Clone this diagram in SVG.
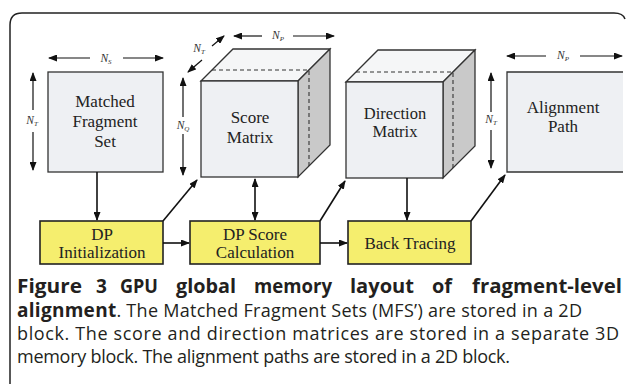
<svg xmlns="http://www.w3.org/2000/svg" width="627" height="384" viewBox="0 0 627 384">
<defs>
<marker id="ah" markerUnits="userSpaceOnUse" markerWidth="9" markerHeight="7" refX="8" refY="3.5" orient="auto-start-reverse"><path d="M0,0 L9,3.5 L0,7 z" fill="#111"/></marker>
<style>
.ln{stroke:#111;stroke-width:1.6;fill:none}
.dim{stroke:#111;stroke-width:1.2;fill:none}
.box{fill:#eef0f3;stroke:#333;stroke-width:1.3}
.top{fill:#f5f6f7;stroke:#333;stroke-width:1.3}
.side{fill:#c9c9c9;stroke:#333;stroke-width:1.3}
.dash{stroke:#333;stroke-width:1.1;stroke-dasharray:4,3;fill:none}
.yb{fill:#f5ee6e;stroke:#222;stroke-width:1.6}
.t{font-family:"Liberation Serif",serif;font-size:17px;fill:#222;text-anchor:middle}
.lab{font-family:"Liberation Serif",serif;font-size:11.5px;font-style:italic;fill:#333;text-anchor:middle}
.sub{font-size:7px}
.cap{font-family:"Open Sans",sans-serif;font-size:18px;fill:#231f20}
.b{font-weight:bold;font-size:19px}
</style>
</defs>
<path d="M10,384 V25 Q10,13 22,13 H614 Q623,13 625,19" fill="none" stroke="#222" stroke-width="1.5"/>

<g id="mfs">
<rect class="box" x="48" y="72" width="115" height="100"/>
<text class="t" x="105" y="107">Matched</text>
<text class="t" x="105" y="127">Fragment</text>
<text class="t" x="105" y="147">Set</text>
</g>

<g id="score-matrix">
<polygon class="top" points="201,81 233,49 330,49 298,81"/>
<polygon class="side" points="298,81 330,49 330,145 298,177"/>
<rect class="box" x="201" y="81" width="97" height="96"/>
<polyline class="dash" points="212,70 309,70 309,166"/>
<text class="t" x="250" y="123">Score</text>
<text class="t" x="250" y="143">Matrix</text>
</g>

<g id="direction-matrix">
<polygon class="top" points="346,82 378,50 475,50 443,82"/>
<polygon class="side" points="443,82 475,50 475,146 443,178"/>
<rect class="box" x="346" y="82" width="97" height="96"/>
<polyline class="dash" points="356,72 453,72 453,168"/>
<text class="t" x="395" y="119" style="font-size:16.5px">Direction</text>
<text class="t" x="395" y="137" style="font-size:16.5px">Matrix</text>
</g>

<g id="alignment-path">
<rect x="507" y="72" width="116" height="100" fill="#eef0f3"/>
<path d="M623,72 H507 V172 H623" fill="none" stroke="#333" stroke-width="1.3"/>
<text class="t" x="563" y="113">Alignment</text>
<text class="t" x="563" y="132">Path</text>
</g>

<g id="dp-init">
<rect class="yb" x="40" y="221" width="123" height="43"/>
<text class="t" x="102" y="240">DP</text>
<text class="t" x="102" y="258">Initialization</text>
</g>

<g id="dp-score">
<rect class="yb" x="190" y="221" width="130" height="43"/>
<text class="t" x="255" y="240">DP Score</text>
<text class="t" x="255" y="258">Calculation</text>
</g>

<g id="back-tracing">
<rect class="yb" x="348" y="221" width="123" height="43"/>
<text class="t" x="410" y="249">Back Tracing</text>
</g>

<g id="dimensions">
<line class="dim" x1="90" y1="58" x2="49" y2="58" marker-end="url(#ah)"/>
<line class="dim" x1="123" y1="58" x2="163" y2="58" marker-end="url(#ah)"/>
<text class="lab" x="106" y="62">N<tspan class="sub" dy="2">S</tspan></text>
<line class="dim" x1="33" y1="110" x2="33" y2="73" marker-end="url(#ah)"/>
<line class="dim" x1="33" y1="132" x2="33" y2="170" marker-end="url(#ah)"/>
<text class="lab" x="32" y="124">N<tspan class="sub" dy="2">T</tspan></text>
<line class="dim" x1="183" y1="117" x2="183" y2="78" marker-end="url(#ah)"/>
<line class="dim" x1="183" y1="134" x2="183" y2="175" marker-end="url(#ah)"/>
<text class="lab" x="183" y="129">N<tspan class="sub" dy="2">Q</tspan></text>
<line class="dim" x1="202" y1="60" x2="188" y2="72" marker-end="url(#ah)"/>
<line class="dim" x1="212" y1="46" x2="224" y2="36" marker-end="url(#ah)"/>
<text class="lab" x="199" y="52">N<tspan class="sub" dy="2">T</tspan></text>
<line class="dim" x1="262" y1="36" x2="234" y2="36" marker-end="url(#ah)"/>
<line class="dim" x1="293" y1="36" x2="334" y2="36" marker-end="url(#ah)"/>
<text class="lab" x="278" y="39">N<tspan class="sub" dy="2">P</tspan></text>
<line class="dim" x1="546" y1="56" x2="507" y2="56" marker-end="url(#ah)"/>
<line class="dim" x1="580" y1="56" x2="622" y2="56" marker-end="url(#ah)"/>
<text class="lab" x="563" y="59">N<tspan class="sub" dy="2">P</tspan></text>
<line class="dim" x1="491" y1="112" x2="491" y2="73" marker-end="url(#ah)"/>
<line class="dim" x1="491" y1="130" x2="491" y2="168" marker-end="url(#ah)"/>
<text class="lab" x="491" y="123">N<tspan class="sub" dy="2">T</tspan></text>
</g>

<g id="connectors">
<line class="ln" x1="97" y1="172" x2="97" y2="220" marker-end="url(#ah)"/>
<line class="ln" x1="163" y1="221" x2="197" y2="180" marker-end="url(#ah)"/>
<line class="ln" x1="255" y1="179" x2="255" y2="220" marker-start="url(#ah)" marker-end="url(#ah)"/>
<line class="ln" x1="163" y1="243" x2="189" y2="243" marker-end="url(#ah)"/>
<line class="ln" x1="320" y1="221" x2="345" y2="181" marker-end="url(#ah)"/>
<line class="ln" x1="407" y1="178" x2="407" y2="220" marker-end="url(#ah)"/>
<line class="ln" x1="320" y1="243" x2="347" y2="243" marker-end="url(#ah)"/>
<line class="ln" x1="471" y1="221" x2="505" y2="175" marker-end="url(#ah)"/>
</g>

<g id="caption">
<text class="cap b" y="293"><tspan x="17" textLength="65" lengthAdjust="spacingAndGlyphs">Figure</tspan><tspan x="96">3</tspan><tspan x="120" textLength="38" lengthAdjust="spacingAndGlyphs">GPU</tspan><tspan x="176" textLength="60" lengthAdjust="spacingAndGlyphs">global</tspan><tspan x="254" textLength="78" lengthAdjust="spacingAndGlyphs">memory</tspan><tspan x="350" textLength="64" lengthAdjust="spacingAndGlyphs">layout</tspan><tspan x="432" textLength="20" lengthAdjust="spacingAndGlyphs">of</tspan><tspan x="472" textLength="150" lengthAdjust="spacingAndGlyphs">fragment-level</tspan></text>
<text class="cap" x="17" y="317" textLength="565" lengthAdjust="spacing"><tspan class="b">alignment</tspan>. The Matched Fragment Sets (MFS’) are stored in a 2D</text>
<text class="cap" x="17" y="340" textLength="602" lengthAdjust="spacing">block. The score and direction matrices are stored in a separate 3D</text>
<text class="cap" x="17" y="363" textLength="493" lengthAdjust="spacing">memory block. The alignment paths are stored in a 2D block.</text>
</g>
</svg>
